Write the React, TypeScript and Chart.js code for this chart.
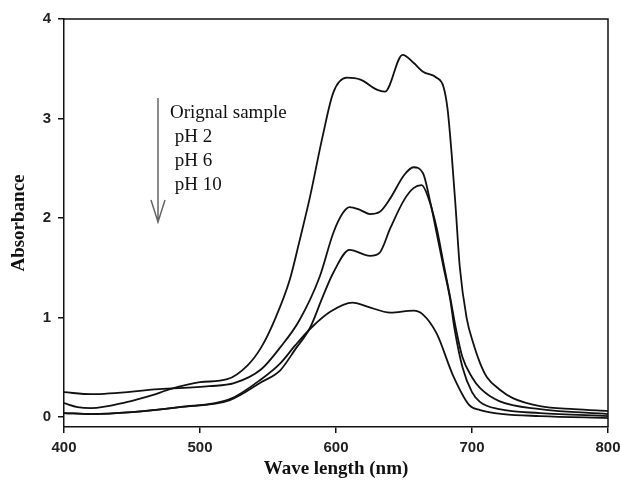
import React, { useEffect, useRef } from "react";
import { Chart, registerables } from "chart.js";

Chart.register(...registerables);

// Original sample
const origX = [400, 410, 420, 446, 465, 478, 500, 520, 535, 545, 555, 566, 573, 581, 590, 598, 608, 618, 630, 636, 649, 657, 664, 674, 679, 682, 685, 688, 691, 696, 701, 706, 711, 720, 730, 750, 775, 800];
const origY = [0.14, 0.1, 0.09, 0.15, 0.22, 0.28, 0.35, 0.38, 0.52, 0.7, 0.98, 1.38, 1.76, 2.22, 2.81, 3.26, 3.41, 3.39, 3.29, 3.27, 3.64, 3.56, 3.47, 3.41, 3.32, 3.1, 2.65, 2.1, 1.51, 1.0, 0.74, 0.54, 0.4, 0.28, 0.19, 0.11, 0.08, 0.06];

// pH 2
const ph2X = [400, 420, 470, 507, 525, 545, 559, 573, 588, 598, 605, 610, 618, 625, 632, 640, 650, 657, 664, 669, 674, 679, 684, 687, 693, 700, 706, 720, 750, 800];
const ph2Y = [0.25, 0.23, 0.28, 0.31, 0.34, 0.48, 0.7, 0.97, 1.41, 1.85, 2.05, 2.11, 2.08, 2.04, 2.06, 2.2, 2.43, 2.51, 2.45, 2.18, 1.85, 1.51, 1.18, 0.9, 0.5, 0.25, 0.15, 0.08, 0.04, 0.01];

// pH 6
const ph6X = [400, 420, 450, 485, 522, 545, 559, 570, 581, 590, 598, 610, 625, 632, 640, 650, 657, 663, 668, 674, 679, 684, 688, 693, 700, 706, 720, 750, 800];
const ph6Y = [0.04, 0.03, 0.05, 0.1, 0.17, 0.35, 0.47, 0.68, 0.9, 1.2, 1.45, 1.68, 1.62, 1.65, 1.9, 2.18, 2.3, 2.33, 2.2, 1.9, 1.55, 1.2, 0.9, 0.6, 0.4, 0.29, 0.16, 0.08, 0.03];

// pH 10
const ph10X = [400, 420, 450, 485, 522, 545, 559, 570, 582, 596, 612, 623, 640, 657, 664, 674, 686, 698, 706, 723, 750, 800];
const ph10Y = [0.04, 0.03, 0.05, 0.1, 0.18, 0.38, 0.54, 0.72, 0.9, 1.06, 1.15, 1.11, 1.05, 1.07, 1.03, 0.84, 0.42, 0.12, 0.07, 0.03, 0.01, -0.01];

const legendLabels = ["Orignal sample", " pH 2", " pH 6", " pH 10"];
const yTicks = [0, 1, 2, 3, 4];

const toPts = (xs: number[], ys: number[]) => xs.map((x, i) => ({ x, y: ys[i] }));

export default function App() {
  const ref = useRef<HTMLCanvasElement | null>(null);
  useEffect(() => {
    if (!ref.current) return;
    const frame = {
      id: "frame",
      afterDraw(chart: any) {
        const { ctx, chartArea } = chart;
        ctx.save();
        ctx.strokeStyle = "#111";
        ctx.lineWidth = 1.5;
        ctx.beginPath();
        ctx.moveTo(chartArea.left, chartArea.top);
        ctx.lineTo(chartArea.right, chartArea.top);
        ctx.lineTo(chartArea.right, chartArea.bottom);
        ctx.stroke();
        // annotation
        ctx.fillStyle = "#111";
        ctx.font = "19px 'Liberation Serif'";
        ctx.textBaseline = "middle";
        ctx.textAlign = "left";
        const ys = [113, 137, 161, 185];
        legendLabels.forEach((t, i) => ctx.fillText(t, 170, ys[i]));
        ctx.strokeStyle = "#666";
        ctx.lineWidth = 1.5;
        ctx.beginPath();
        ctx.moveTo(158, 98);
        ctx.lineTo(158, 222);
        ctx.moveTo(151, 200);
        ctx.lineTo(158, 222);
        ctx.lineTo(165, 200);
        ctx.stroke();
        ctx.restore();
      },
    };
    const mk = (xs: number[], ys: number[]) => ({
      data: toPts(xs, ys),
      borderColor: "#111",
      borderWidth: 1.8,
      pointRadius: 0,
      fill: false,
      cubicInterpolationMode: "monotone" as const,
    });
    const chart = new Chart(ref.current, {
      type: "line",
      data: {
        datasets: [mk(origX, origY), mk(ph2X, ph2Y), mk(ph6X, ph6Y), mk(ph10X, ph10Y)],
      },
      options: {
        animation: false,
        responsive: false,
        layout: { padding: { top: 19, right: 12, left: 0, bottom: 0 } },
        plugins: { legend: { display: false }, tooltip: { enabled: false } },
        scales: {
          x: {
            type: "linear",
            min: 400,
            max: 800,
            ticks: { stepSize: 100, color: "#222", font: { family: "'Liberation Sans'", size: 15, weight: "bold" }, padding: 6 },
            grid: { drawOnChartArea: false, drawTicks: true, tickLength: 6, color: "#111", lineWidth: 1.5 },
            border: { display: true, color: "#111", width: 1.5 },
            title: { display: true, text: "Wave length (nm)", color: "#111", font: { family: "'Liberation Serif'", size: 19, weight: "bold" }, padding: { top: 0, bottom: 6 } },
            afterFit: (s: any) => { s.height = 59; s.paddingRight = 0; s.paddingLeft = 0; },
          },
          y: {
            type: "linear",
            min: -0.1,
            max: 4,
            afterBuildTicks: (s: any) => { s.ticks = yTicks.map((v) => ({ value: v })); },
            ticks: { color: "#222", font: { family: "'Liberation Sans'", size: 15, weight: "bold" }, padding: 7 },
            grid: { drawOnChartArea: false, drawTicks: true, tickLength: 6, color: "#111", lineWidth: 1.5 },
            border: { display: true, color: "#111", width: 1.5 },
            title: { display: true, text: "Absorbance", color: "#111", font: { family: "'Liberation Serif'", size: 19, weight: "bold" }, padding: { top: 8, bottom: 0 } },
            afterFit: (s: any) => { s.width = 64; s.paddingTop = 0; s.paddingBottom = 0; },
          },
        },
      },
      plugins: [frame],
    });
    return () => chart.destroy();
  }, []);
  return (
    <div style={{ position: "fixed", left: 0, top: 0, width: 620, height: 486, background: "#fff" }}>
      <canvas ref={ref} width={620} height={486} style={{ width: 620, height: 486 }} />
    </div>
  );
}
